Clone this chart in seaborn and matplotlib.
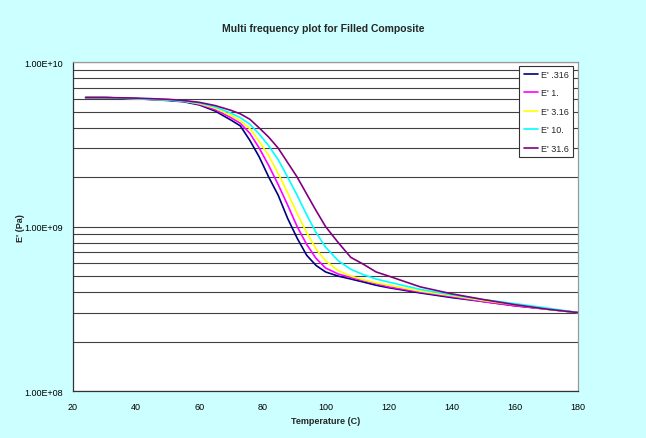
import pandas as pd
import matplotlib
matplotlib.use('Agg')
import matplotlib.pyplot as plt
import matplotlib.ticker as mticker
import seaborn as sns

# Température (C)
temperature = [24, 30, 40, 50, 55, 60, 65, 70, 73, 76, 79, 82, 85, 88, 91, 94, 97,
               100, 104, 108, 112, 116, 120, 130, 140, 150, 160, 170, 180]

# Module E' (x1e9 Pa) pour chaque fréquence (Hz)
e_0316 = [6.1, 6.1, 6.0, 5.85, 5.75, 5.5, 5.05, 4.45, 4.1, 3.35, 2.65, 2.0, 1.55, 1.12, 0.85, 0.67, 0.58,
          0.53, 0.50, 0.48, 0.46, 0.44, 0.425, 0.395, 0.37, 0.35, 0.33, 0.315, 0.30]
e_1 = [6.1, 6.1, 6.0, 5.9, 5.8, 5.55, 5.15, 4.6, 4.25, 3.7, 3.0, 2.35, 1.8, 1.35, 1.0, 0.78, 0.64,
       0.56, 0.515, 0.49, 0.47, 0.45, 0.43, 0.40, 0.375, 0.35, 0.33, 0.315, 0.30]
e_316 = [6.1, 6.1, 6.0, 5.9, 5.8, 5.6, 5.25, 4.75, 4.4, 3.95, 3.3, 2.7, 2.1, 1.6, 1.2, 0.92, 0.73,
         0.62, 0.54, 0.50, 0.475, 0.455, 0.44, 0.405, 0.38, 0.355, 0.335, 0.315, 0.30]
e_10 = [6.1, 6.1, 6.0, 5.9, 5.8, 5.65, 5.35, 4.9, 4.6, 4.2, 3.65, 3.1, 2.55, 2.0, 1.55, 1.18, 0.92,
        0.75, 0.62, 0.55, 0.51, 0.48, 0.46, 0.415, 0.385, 0.36, 0.34, 0.32, 0.30]
e_316b = [6.1, 6.1, 6.05, 5.95, 5.85, 5.7, 5.45, 5.1, 4.85, 4.5, 3.98, 3.5, 3.0, 2.45, 2.0, 1.58, 1.25,
          1.0, 0.80, 0.65, 0.59, 0.53, 0.50, 0.43, 0.39, 0.36, 0.335, 0.315, 0.30]

series_names = ["E' .316", "E' 1.", "E' 3.16", "E' 10.", "E' 31.6"]
series_values = [e_0316, e_1, e_316, e_10, e_316b]
couleurs = ['#000080', '#FF00FF', '#FFFF00', '#00FFFF', '#800080']

rows = []
for nom, vals in zip(series_names, series_values):
    for t, v in zip(temperature, vals):
        rows.append({'Temperature': t, 'E': v * 1e9, 'serie': nom})
df = pd.DataFrame(rows)

sns.set_style('white')
plt.rcParams['font.family'] = ['Liberation Sans Narrow', 'Liberation Sans', 'DejaVu Sans']

fig = plt.figure(figsize=(6.46, 4.39), dpi=100, facecolor='#CCFFFF')
ax = fig.add_axes([0.113, 0.107, 0.782, 0.749])
ax.set_facecolor('white')

sns.lineplot(data=df, x='Temperature', y='E', hue='serie', hue_order=series_names,
             palette=couleurs, linewidth=1.2, ax=ax, legend=True)

ax.set_yscale('log')
ax.set_ylim(1e8, 1e10)
ax.set_xlim(20, 180)
ax.set_xticks(range(20, 181, 20))
ax.yaxis.set_major_locator(mticker.LogLocator(base=10, numticks=5))
ax.yaxis.set_major_formatter(mticker.FuncFormatter(lambda v, p: f"{v:.2E}"))
ax.yaxis.set_minor_locator(mticker.LogLocator(base=10, subs=range(2, 10), numticks=20))
ax.yaxis.set_minor_formatter(mticker.NullFormatter())
ax.yaxis.grid(True, which='both', color='#404040', linewidth=0.8)
ax.xaxis.grid(False)
ax.set_axisbelow(True)

ax.tick_params(axis='both', which='major', direction='out', length=3, width=0.8,
               labelsize=6.5, colors='#333333', labelcolor='black', pad=4)
ax.tick_params(axis='x', which='major', pad=5)
ax.tick_params(axis='y', which='minor', length=0)
for cote in ['left', 'bottom']:
    ax.spines[cote].set_color('#333333')
    ax.spines[cote].set_linewidth(0.9)
for cote in ['top', 'right']:
    ax.spines[cote].set_color('#999999')
    ax.spines[cote].set_linewidth(0.9)

ax.set_xlabel('Temperature (C)', fontsize=6.5, fontweight='bold')
ax.set_ylabel("E' (Pa)", fontsize=6.5, fontweight='bold')
ax.xaxis.set_label_coords(0.5, -0.075)
ax.yaxis.set_label_coords(-0.095, 0.5)
fig.text(0.5, 0.935, 'Multi frequency plot for Filled Composite', ha='center', va='center',
         fontsize=7.5, fontweight='bold')

leg = ax.legend(loc='upper right', bbox_to_anchor=(0.99, 0.99), fontsize=6.5, frameon=True,
                fancybox=False, handlelength=1.6, handletextpad=0.3, labelspacing=1.05,
                borderpad=0.5, borderaxespad=0, title=None)
leg.get_frame().set_edgecolor('#333333')
leg.get_frame().set_linewidth(0.8)
leg.get_frame().set_facecolor('white')
leg.get_frame().set_alpha(1)

fig.savefig('out.png', dpi=100, facecolor=fig.get_facecolor())
